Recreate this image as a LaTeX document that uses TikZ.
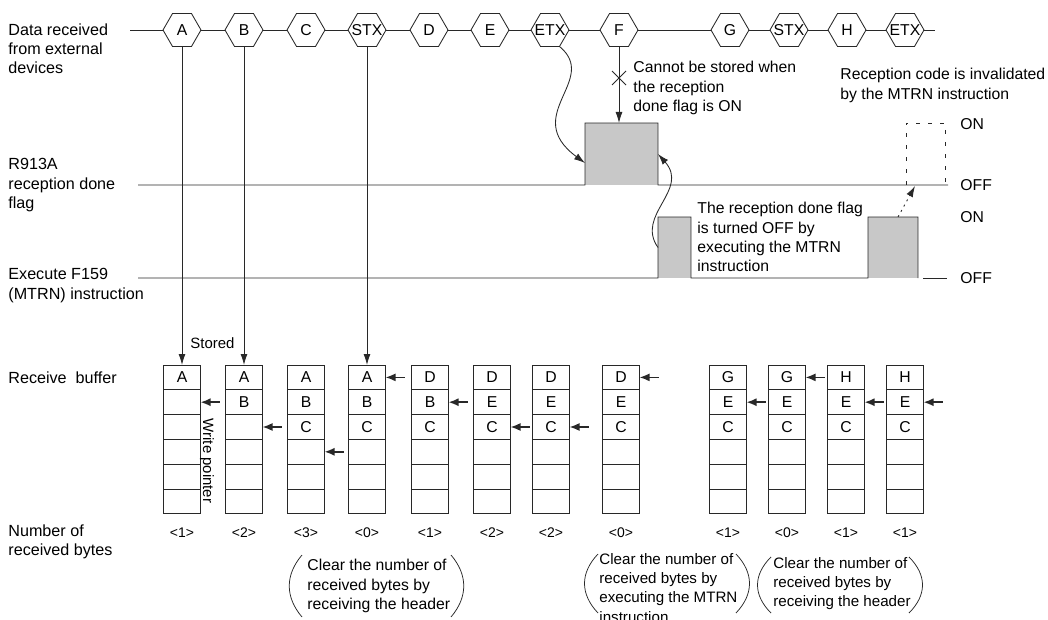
\documentclass[tikz,border=0pt]{standalone}
\usepackage{fontspec}
\setmainfont{Liberation Sans}
\usetikzlibrary{shapes.geometric,arrows.meta}
\definecolor{ink}{RGB}{40,40,40}
\definecolor{pulsegray}{RGB}{200,200,200}
\newcommand\fLbl{\fontsize{16.2}{19.5}\selectfont}
\newcommand\fAnn{\fontsize{15.8}{19.3}\selectfont}
\newcommand\fNote{\fontsize{15.2}{19.3}\selectfont}
\newcommand\fSm{\fontsize{15}{18}\selectfont}
\newcommand\fCnt{\fontsize{14}{16}\selectfont}
\begin{document}
\begin{tikzpicture}[x=1bp,y=-1bp,line width=0.85bp,color=ink,text=black,
  hexa/.style={regular polygon, regular polygon sides=6, minimum size=38bp, inner sep=0pt, outer sep=0pt, draw, fill=white},
  cell/.style={rectangle, draw, minimum width=37bp, minimum height=24.8bp, inner sep=0pt, outer sep=0pt},
  txt/.style={inner sep=0pt, font=\fAnn},
  blk/.style={anchor=north west, inner sep=0pt, align=left, font=\fAnn},
  pulse/.style={rectangle, fill=pulsegray, draw=none, inner sep=0pt, outer sep=0pt},
  arr/.style={-{Latex[length=11bp,width=7bp]}},
  ptr/.style={-{Latex[length=10bp,width=8bp]}, line width=1.6bp},
  paren/.style={line width=0.75bp}
]
\useasboundingbox (0,0) rectangle (1048,620);

% ---------- left labels
\node[blk, font=\fLbl] (l1) at (8,23) {Data received\\from external\\devices};
\node[blk, font=\fLbl] (l2) at (8,158) {R913A\\reception done\\flag};
\node[blk, font=\fLbl] (l3) at (8,268) {Execute F159\\(MTRN) instruction};
\node[blk, font=\fLbl] (l4) at (8,371) {Receive\ \ buffer};
\node[blk, font=\fLbl] (l5) at (8,524) {Number of\\received bytes};

% ---------- data line and hexagons
\coordinate (d0) at (130,30);
\coordinate (d1) at (935,30);
\draw (d0) -- (d1);
\foreach \n/\x/\t in {A/182/A, B/244/B, C/306/C, S1/367/STX, D/429/D, E/490/E, X1/550/ETX, F/619/F, G/730/G, S2/789/STX, H/847/H, X2/905/ETX}{
  \node[hexa] (h\n) at (\x,30) {};
  \node[txt] (ht\n) at (h\n) {\t};
}

% ---------- receive buffers
\foreach \c/\x in {1/182, 2/244, 3/306, 4/367, 5/430, 6/492, 7/551, 8/621, 9/728, 10/787, 11/846, 12/905}{
  \foreach \r in {1,...,6}{
    \node[cell] (b\c-\r) at (\x,{352.6+\r*24.8}) {};
  }
}
\foreach \i/\t in {1-1/A, 2-1/A, 2-2/B, 3-1/A, 3-2/B, 3-3/C, 4-1/A, 4-2/B, 4-3/C,
  5-1/D, 5-2/B, 5-3/C, 6-1/D, 6-2/E, 6-3/C, 7-1/D, 7-2/E, 7-3/C, 8-1/D, 8-2/E, 8-3/C,
  9-1/G, 9-2/E, 9-3/C, 10-1/G, 10-2/E, 10-3/C, 11-1/H, 11-2/E, 11-3/C, 12-1/H, 12-2/E, 12-3/C}{
  \node[txt] (t\i) at (b\i) {\t};
}
% write pointers
\foreach \i in {1-2, 2-3, 3-4, 4-1, 5-2, 6-3, 7-3, 8-1, 9-2, 10-1, 11-2, 12-2}{
  \path (b\i.east) ++(19,0) coordinate (q\i);
  \draw[ptr] (q\i) -- (b\i.east);
}
\node[txt, font=\fSm, rotate=-90] (wp) at (207,461) {Write pointer};
\node[blk, font=\fSm] (st) at (190,337) {Stored};

% counts
\foreach \c/\x/\n in {1/182/1, 2/244/2, 3/306/3, 4/367/0, 5/430/1, 6/492/2, 7/551/2, 8/621/0, 9/728/1, 10/787/0, 11/846/1, 12/905/1}{
  \node[txt, font=\fCnt] (n\c) at (\x,533) {<\n>};
}

% stored arrows
\draw[arr] (hA.south) -- (b1-1.north);
\draw[arr] (hB.south) -- (b2-1.north);
\draw[arr] (hS1.south) -- (b4-1.north);

% ---------- R913A signal
\node[pulse, minimum width=73bp, minimum height=62bp] (p1) at (621.5,154) {};
\coordinate (r0) at (138,185);
\coordinate (r1) at (948,185);
\draw (r0) -- (p1.south west) -- (p1.north west) -- (p1.north east) -- (p1.south east) -- (r1);
\draw[dash pattern=on 4bp off 8bp] (906,185) -- (906,123) -- (945,123) -- (945,185);

% ---------- F159 signal
\node[pulse, minimum width=33bp, minimum height=61bp] (p2) at (674.5,247.5) {};
\node[pulse, minimum width=50bp, minimum height=61bp] (p3) at (893,247.5) {};
\coordinate (e0) at (138,278);
\draw (e0) -- (p2.south west) -- (p2.north west) -- (p2.north east) -- (p2.south east)
  -- (p3.south west) -- (p3.north west) -- (p3.north east) -- (p3.south east);
\coordinate (e1) at (923,278);
\coordinate (e2) at (947,278);
\draw (e1) -- (e2);

\node[txt, anchor=west] (on1) at (960,124) {ON};
\node[txt, anchor=west] (off1) at (960,185) {OFF};
\node[txt, anchor=west] (on2) at (960,217) {ON};
\node[txt, anchor=west] (off2) at (960,278) {OFF};

% ---------- F arrow (cannot be stored)
\draw[arr] (hF.south) -- (hF.south |- p1.north);
\draw (612,71) -- (626,85) (612,85) -- (626,71);
\node[blk] (cn) at (633,61) {Cannot be stored when\\the reception\\done flag is ON};

% ---------- curved arrows
\draw[arr] (hX1.-60) .. controls (600,80) and (520,115) .. ([yshift=-9bp]p1.west);
\draw[arr] (p2.west) .. controls (635,215) and (690,190) .. (p1.east);
\coordinate (dtip) at (915,186);
\draw[arr, dash pattern=on 2bp off 4bp] ([xshift=5bp]p3.north) -- (dtip);

\node[blk] (rc) at (840,68) {Reception code is invalidated\\by the MTRN instruction};
\node[blk] (rd) at (697,202) {The reception done flag\\is turned OFF by\\executing the MTRN\\instruction};

% ---------- bottom notes
\draw[paren] (302,555) .. controls (285,575) and (285,597) .. (302,617);
\draw[paren] (451,555) .. controls (468,575) and (468,597) .. (451,617);
\node[blk] (nt1) at (307,559) {Clear the number of\\received bytes by\\receiving the header};

\draw[paren] (598,554) .. controls (580,573) and (580,594) .. (598,613);
\draw[paren] (736,554) .. controls (754,573) and (754,594) .. (736,613);
\node[blk, font=\fNote] (nt2) at (599,553) {Clear the number of\\received bytes by\\executing the MTRN\\instruction};

\draw[paren] (771,557) .. controls (753,575) and (753,595) .. (771,613);
\draw[paren] (909,557) .. controls (927,575) and (927,595) .. (909,613);
\node[blk, font=\fNote] (nt3) at (773,557) {Clear the number of\\received bytes by\\receiving the header};
\end{tikzpicture}
\end{document}
